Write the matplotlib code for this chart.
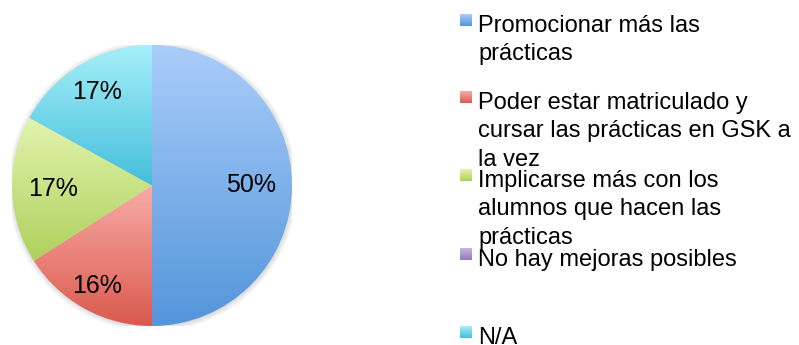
import numpy as np
import matplotlib.pyplot as plt
from matplotlib.colors import LinearSegmentedColormap
from matplotlib.patches import Circle

# respuestas sobre mejoras de las prácticas (porcentaje)
categorias = ['Promocionar más las\nprácticas',
              'Poder estar matriculado y\ncursar las prácticas en GSK a\nla vez',
              'Implicarse más con los\nalumnos que hacen las\nprácticas',
              'No hay mejoras posibles',
              'N/A']
valores = [50, 16, 17, 0, 17]

# degradado claro -> oscuro de cada serie
col_claro = ['#aacdfa', '#f9aca6', '#e2f4ae', '#c8b6e2', '#a6f0fa']
col_oscuro = ['#5395da', '#da5a4e', '#aed05c', '#9478bc', '#45bedb']

W, H = 799, 345
fig = plt.figure(figsize=(W / 100, H / 100), dpi=100)
fig.patch.set_facecolor('white')

# pie axes, pixel box x 12..292, y 45..326
ax = fig.add_axes([12 / W, (H - 326) / H, 280 / W, 281 / H])
ax.axis('off')

# sombra suave alrededor
for r in np.linspace(1.035, 1.0, 6):
    ax.add_patch(Circle((0.004, -0.006), r, color='#000000', alpha=0.025,
                        lw=0, zorder=0))

wedges, _ = ax.pie(valores, startangle=90, counterclock=False, radius=1.0,
                   colors=['none'] * len(valores),
                   wedgeprops=dict(linewidth=0))
ax.set_xlim(-1.0, 1.0)
ax.set_ylim(-1.0, 1.0)

grad = np.linspace(0, 1, 256).reshape(-1, 1)
for w, c0, c1 in zip(wedges, col_claro, col_oscuro):
    if w.theta1 == w.theta2:
        continue
    cmap = LinearSegmentedColormap.from_list('g', [c0, c1])
    bb = w.get_window_extent()
    inv = ax.transData.inverted()
    (x0, y0), (x1, y1) = inv.transform([[bb.x0, bb.y0], [bb.x1, bb.y1]])
    im = ax.imshow(grad, cmap=cmap, extent=[x0, x1, y0, y1], origin='upper',
                   aspect='auto', zorder=1, interpolation='bilinear')
    im.set_clip_path(w)
ax.set_xlim(-1.0, 1.0)
ax.set_ylim(-1.0, 1.0)

# etiquetas de porcentaje
dist = [0.71, 0.82, 0.71, 0.0, 0.77]
for w, v, d in zip(wedges, valores, dist):
    if v == 0:
        continue
    ang = np.deg2rad((w.theta1 + w.theta2) / 2)
    ax.text(d * np.cos(ang), d * np.sin(ang), f'{v}%', ha='center',
            va='center', fontsize=18, family='Liberation Sans', zorder=3)

# leyenda en coordenadas de pixel
lax = fig.add_axes([0, 0, 1, 1])
lax.axis('off')
top_marc = [14, 91, 169, 248, 326]
for cat, c0, c1, y in zip(categorias, col_claro, col_oscuro, top_marc):
    cmap = LinearSegmentedColormap.from_list('g', [c0, c1])
    lax.imshow(grad, cmap=cmap, extent=[460, 472, y + 12, y], aspect='auto',
               interpolation='bilinear')
    lax.text(478, y + 1, cat, ha='left', va='top', fontsize=17,
             family='Liberation Sans', linespacing=1.38)
lax.set_xlim(0, W)
lax.set_ylim(H, 0)

fig.savefig('out.png', dpi=100, facecolor='white')
